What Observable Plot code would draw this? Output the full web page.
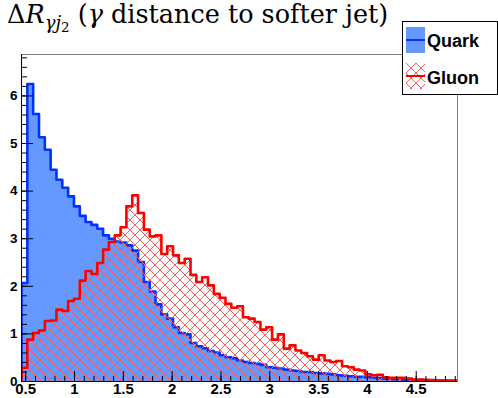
<!DOCTYPE html>
<html>
<head>
<meta charset="utf-8">
<script src="https://cdn.jsdelivr.net/npm/d3@7"></script>
<script src="https://cdn.jsdelivr.net/npm/@observablehq/plot@0.6"></script>
<style>
html, body { margin: 0; padding: 0; background: #fff; }
#wrap { position: relative; width: 498px; height: 398px; overflow: hidden; background: #fff; }
#chart { position: absolute; left: 0; top: 0; }
#title { position: absolute; left: 7px; top: 1px; font-family: 'DejaVu Serif', serif; font-size: 25.5px; line-height: 26px; white-space: nowrap; color: #000; z-index: 2; }
#title .sub { font-size: 18px; position: relative; top: 6px; }
#title .sub2 { font-size: 13.5px; position: relative; top: 3px; }
#legend { position: absolute; left: 402px; top: 21px; width: 94px; height: 72px; border: 1px solid #000; background: #fff; z-index: 3; font-family: 'Liberation Sans', Arial, sans-serif; font-weight: bold; font-size: 18px; }
#legend svg { position: absolute; left: 3px; }
#legend .lab { position: absolute; left: 24px; line-height: 18px; white-space: nowrap; color: #000; }
</style>
</head>
<body>
<div id="wrap">
  <div id="chart"></div>
  <div id="title">Δ<i>R</i><span class="sub"><i>γj</i><span class="sub2">2</span></span> (<i>γ</i> distance to softer jet)</div>
  <div id="legend"></div>
</div>
<script>
// ---- data ----
const seriesNames = ["Quark", "Gluon"];
const binStart = 0.457;
const binWidth = 0.0597;
const quark = [
  2.07, 6.25, 5.62, 5.13, 4.87, 4.45, 4.24, 4.07, 3.89, 3.68,
  3.48, 3.35, 3.29, 3.21, 3.07, 3.00, 2.94, 2.92, 2.86, 2.75,
  2.51, 2.09, 1.89, 1.62, 1.41, 1.32, 1.14, 1.02, 0.99, 0.81,
  0.74, 0.70, 0.64, 0.61, 0.55, 0.51, 0.49, 0.44, 0.41, 0.39,
  0.37, 0.35, 0.30, 0.29, 0.27, 0.25, 0.23, 0.22, 0.20, 0.20,
  0.18, 0.17, 0.16, 0.15, 0.13, 0.12, 0.11, 0.10, 0.10, 0.09,
  0.08, 0.07, 0.06, 0.05, 0.05, 0.04, 0.04, 0.03, 0.03, 0.03,
  0.02, 0.02, 0.02, 0.01, 0.01
];
const gluon = [
  0.29, 0.88, 1.02, 1.07, 1.27, 1.28, 1.51, 1.48, 1.69, 1.74,
  2.12, 2.32, 2.26, 2.49, 2.77, 2.93, 3.07, 3.24, 3.68, 3.91,
  3.54, 3.19, 3.05, 3.07, 2.68, 2.84, 2.65, 2.49, 2.58, 2.24,
  2.09, 2.19, 2.02, 1.84, 1.76, 1.63, 1.55, 1.58, 1.35, 1.32,
  1.25, 1.09, 1.14, 0.88, 0.99, 0.69, 0.76, 0.65, 0.60, 0.53,
  0.46, 0.55, 0.44, 0.41, 0.43, 0.32, 0.30, 0.25, 0.23, 0.15,
  0.13, 0.14, 0.09, 0.08, 0.08, 0.08, 0.06, 0.04, 0.04, 0.03,
  0.03, 0.02, 0.02, 0.02, 0.02
];
const xTicks = [0.5, 1, 1.5, 2, 2.5, 3, 3.5, 4, 4.5];
const xTickLabels = ["0.5", "1", "1.5", "2", "2.5", "3", "3.5", "4", "4.5"];
const yTicks = [0, 1, 2, 3, 4, 5, 6];
const yTickLabels = ["0", "1", "2", "3", "4", "5", "6"];

// ---- config ----
const xDomain = [0.457, 4.923];
const yDomain = [0, 6.87];
const quarkFill = "#6699ff", quarkLine = "#0033ff";
const gluonLine = "#ff0000", hatchColor = "#ff5a5a";

function steps(vals) {
  const pts = [{x: binStart, y: 0}];
  vals.forEach((v, i) => {
    pts.push({x: binStart + i * binWidth, y: v});
    pts.push({x: binStart + (i + 1) * binWidth, y: v});
  });
  pts.push({x: binStart + vals.length * binWidth, y: 0});
  return pts;
}
const qSteps = steps(quark);
const gSteps = steps(gluon);
const xMinor = d3.range(5, 50).map(d => d / 10);
const yMinor = d3.range(0, 35).map(d => d / 5);

function hatchDefs(id) {
  const defs = d3.create("svg:defs");
  const p = defs.append("pattern").attr("id", id).attr("patternUnits", "userSpaceOnUse")
    .attr("width", 10).attr("height", 10);
  p.append("path").attr("d", "M0,0L10,10M10,0L0,10")
    .attr("stroke", hatchColor).attr("stroke-width", 1).attr("fill", "none");
  return defs.node();
}

const chart = Plot.plot({
  width: 498,
  height: 398,
  marginLeft: 21,
  marginRight: 41,
  marginTop: 54,
  marginBottom: 17,
  style: {fontFamily: "'Liberation Sans', Arial, sans-serif", background: "white", color: "black", overflow: "visible"},
  x: {domain: xDomain, label: null},
  y: {domain: yDomain, label: null},
  marks: [
    () => hatchDefs("hatch"),
    Plot.areaY(qSteps, {x: "x", y1: 0, y2: "y", fill: quarkFill, clip: true}),
    Plot.line(qSteps, {x: "x", y: "y", stroke: quarkLine, strokeWidth: 2.6, clip: true}),
    Plot.areaY(gSteps, {x: "x", y1: 0, y2: "y", fill: "url(#hatch)", clip: true}),
    Plot.line(gSteps, {x: "x", y: "y", stroke: gluonLine, strokeWidth: 2.6, clip: true}),
    Plot.frame({stroke: "#808080"}),
    Plot.ruleX([xDomain[0]], {stroke: "#000"}),
    Plot.ruleY([yDomain[0]], {stroke: "#000"}),
    Plot.axisX(xMinor, {anchor: "bottom", tickSize: 5, dy: -5, fill: "none", stroke: "#000"}),
    Plot.axisX(xTicks, {anchor: "bottom", tickSize: 10, dy: -10, fill: "none", stroke: "#000"}),
    Plot.axisX(xTicks, {anchor: "bottom", tickSize: 0, tickPadding: 2, fontSize: 15, fontWeight: "bold",
      tickFormat: d => xTickLabels[xTicks.indexOf(d)]}),
    Plot.axisY(yMinor, {anchor: "left", tickSize: 6, dx: 6, fill: "none", stroke: "#000"}),
    Plot.axisY(yTicks, {anchor: "left", tickSize: 12, dx: 12, fill: "none", stroke: "#000"}),
    Plot.axisY(yTicks, {anchor: "left", tickSize: 0, tickPadding: 4, fontSize: 13.5, fontWeight: "bold",
      tickFormat: d => yTickLabels[yTicks.indexOf(d)]})
  ]
});
document.getElementById("chart").appendChild(chart);

// ---- legend ----
const legend = document.getElementById("legend");
const items = [
  {name: seriesNames[0], top: 5, labTop: 10, kind: "fill"},
  {name: seriesNames[1], top: 41, labTop: 47, kind: "hatch"}
];
items.forEach(it => {
  const s = d3.create("svg").attr("width", 19).attr("height", 26).style("top", it.top + "px");
  if (it.kind === "fill") {
    s.append("rect").attr("x", 0).attr("y", 0).attr("width", 19).attr("height", 26).attr("fill", quarkFill);
    s.append("line").attr("x1", 0).attr("x2", 19).attr("y1", 13).attr("y2", 13).attr("stroke", quarkLine).attr("stroke-width", 2);
  } else {
    s.node().appendChild(hatchDefs("hatchLeg"));
    s.append("rect").attr("x", 0).attr("y", 0).attr("width", 19).attr("height", 26).attr("fill", "url(#hatchLeg)");
    s.append("line").attr("x1", 0).attr("x2", 19).attr("y1", 13).attr("y2", 13).attr("stroke", gluonLine).attr("stroke-width", 2);
  }
  legend.appendChild(s.node());
  const lab = document.createElement("div");
  lab.className = "lab";
  lab.style.top = it.labTop + "px";
  lab.textContent = it.name;
  legend.appendChild(lab);
});
</script>
</body>
</html>
